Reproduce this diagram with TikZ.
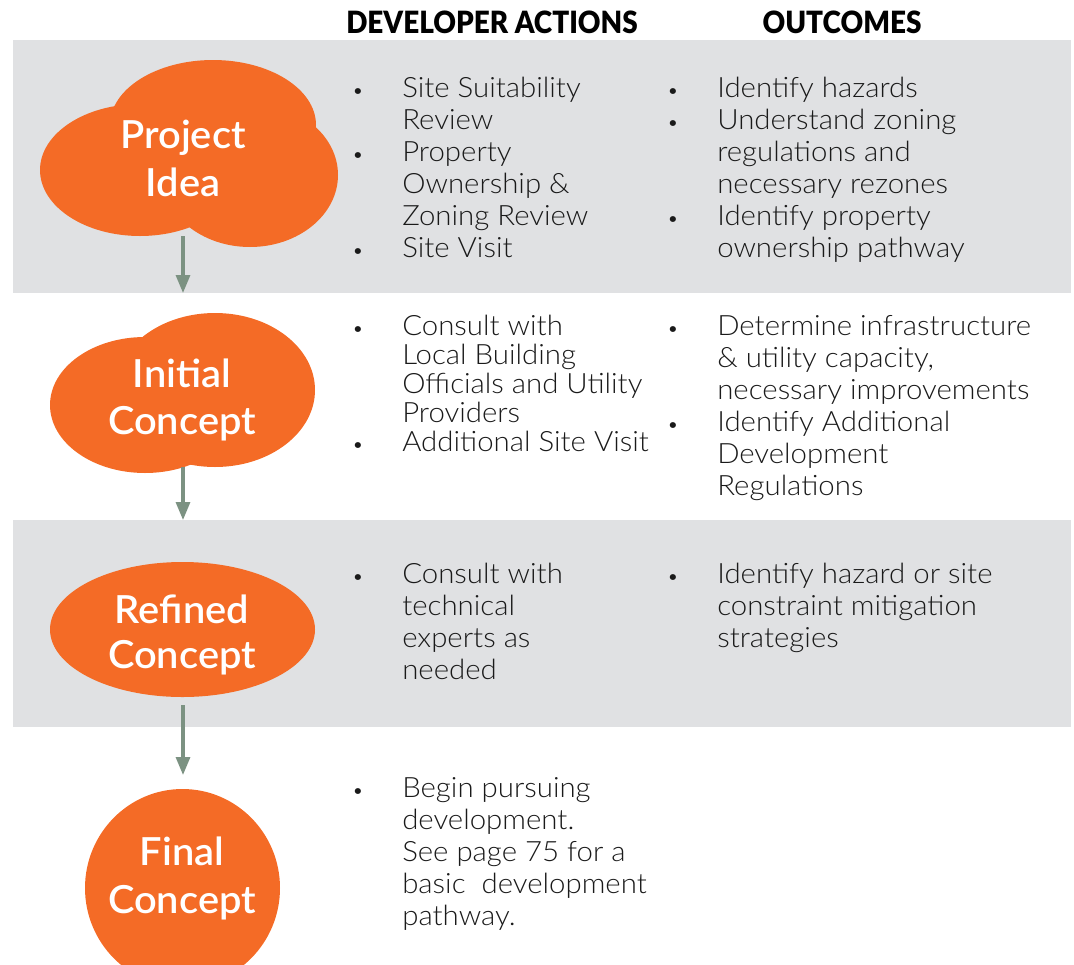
\documentclass[tikz,border=0pt]{standalone}
\usepackage{fontspec}
\usetikzlibrary{arrows.meta}
\setmainfont{Lato}[UprightFont=* Light, BoldFont=* Bold, FakeStretch=1.05]
\newfontfamily\stagefont{Lato}[UprightFont=* Semibold, FakeStretch=1.03]
\newfontfamily\headfont{Lato}[UprightFont=* Black]

\definecolor{bandgray}{HTML}{E0E1E3}
\definecolor{stageorange}{HTML}{F46B26}
\definecolor{flowgray}{HTML}{7C9282}
\definecolor{inkblack}{HTML}{1A1A1A}

\newcommand{\bodysize}{\fontsize{21}{24}\selectfont}
\newcommand{\tightsize}{\fontsize{21}{21.75}\selectfont}

\tikzset{
  band/.style={fill=bandgray},
  stageshape/.style={fill=stageorange},
  stagelabel/.style={anchor=base, inner sep=0pt, text=white},
  heading/.style={anchor=base, inner sep=0pt, text=black,
                  font=\headfont\fontsize{23}{26}\selectfont},
  itemtext/.style={anchor=base west, inner sep=0pt, text=inkblack},
  bulletmark/.style={anchor=base, inner sep=0pt, text=inkblack,
                     font=\fontsize{15}{15}\selectfont},
  flow/.style={draw=flowgray, line width=2.4pt,
               -{Triangle[length=13.5pt,width=10.5pt]}}
}

% multi-line label, baseline = first line
\newcommand{\stagetext}[2][35.5]{\parbox[t]{160pt}{\centering\stagefont\fontsize{29}{#1}\selectfont #2}}
\newcommand{\blocktext}[2][\bodysize]{\parbox[t]{260pt}{\raggedright#1 #2}}

\begin{document}
\begin{tikzpicture}[x=0.75pt,y=-0.75pt]
\useasboundingbox (0,0) rectangle (1074,964);
\clip (0,0) rectangle (1074,964);

% row bands
\fill[band] (13,40) rectangle (1071,293);
\fill[band] (13,520) rectangle (1071,727);

% column headings
\node[heading] (hactions) at (492,33) {\scalebox{0.91}[1]{DEVELOPER ACTIONS}};
\node[heading] (houtcomes) at (842,33) {\scalebox{0.91}[1]{OUTCOMES}};

% stage shapes
\fill[stageshape] (213,125) ellipse [x radius=103, y radius=65];
\fill[stageshape] (140,170) ellipse [x radius=100, y radius=66];
\fill[stageshape] (250,175) ellipse [x radius=88, y radius=72];

\fill[stageshape] (145,405) ellipse [x radius=95, y radius=68];
\fill[stageshape] (215,390) ellipse [x radius=100, y radius=77];

\fill[stageshape] (182.5,629.5) ellipse [x radius=132.5, y radius=67.5];

\fill[stageshape] (182.5,888) ellipse [x radius=97.5, y radius=99];

% stage labels
\node[stagelabel] (idea) at (183,148) {\stagetext[36]{Project\\Idea}};
\node[stagelabel] (initial) at (182,387) {\stagetext[35.25]{Initial\\Concept}};
\node[stagelabel] (refined) at (182,623) {\stagetext[33.75]{Refined\\Concept}};
\node[stagelabel] (final) at (182,865) {\stagetext[36]{Final\\Concept}};

% connectors between stages
\coordinate (ideaout) at (183,236);
\coordinate (initialin) at (183,293);
\coordinate (initialout) at (183,467);
\coordinate (refinedin) at (183,520);
\coordinate (refinedout) at (183,705);
\coordinate (finalin) at (183,775);
\draw[flow] (ideaout) -- (initialin);
\draw[flow] (initialout) -- (refinedin);
\draw[flow] (refinedout) -- (finalin);

% row 1
\node[itemtext] (act1) at (402,97) {\blocktext{Site Suitability\\Review\\Property\\Ownership \&\\Zoning Review\\Site Visit}};
\node[bulletmark] (b1a) at (358,97) {•};
\node[bulletmark] (b1b) at (358,161) {•};
\node[bulletmark] (b1c) at (358,257) {•};
\node[itemtext] (out1) at (717,97) {\blocktext{Identify hazards\\Understand zoning\\regulations and\\necessary rezones\\Identify property\\ownership pathway}};
\node[bulletmark] (o1a) at (673,97) {•};
\node[bulletmark] (o1b) at (673,129) {•};
\node[bulletmark] (o1c) at (673,225) {•};

% row 2
\node[itemtext] (act2) at (402,335) {\blocktext[\tightsize]{Consult with\\Local Building\\Officials and Utility\\Providers\\Additional Site Visit}};
\node[bulletmark] (b2a) at (358,335) {•};
\node[bulletmark] (b2b) at (358,451) {•};
\node[itemtext] (out2) at (717,335) {\blocktext{Determine infrastructure\\\& utility capacity,\\necessary improvements\\Identify Additional\\Development\\Regulations}};
\node[bulletmark] (o2a) at (673,335) {•};
\node[bulletmark] (o2b) at (673,431) {•};

% row 3
\node[itemtext] (act3) at (402,583) {\blocktext{Consult with\\technical\\experts as\\needed}};
\node[bulletmark] (b3a) at (358,583) {•};
\node[itemtext] (out3) at (717,583) {\blocktext{Identify hazard or site\\constraint mitigation\\strategies}};
\node[bulletmark] (o3a) at (673,583) {•};

% row 4
\node[itemtext] (act4) at (402,797) {\blocktext{Begin pursuing\\development.\\See page 75 for a\\basic\ \ development\\pathway.}};
\node[bulletmark] (b4a) at (358,797) {•};
\end{tikzpicture}
\end{document}
